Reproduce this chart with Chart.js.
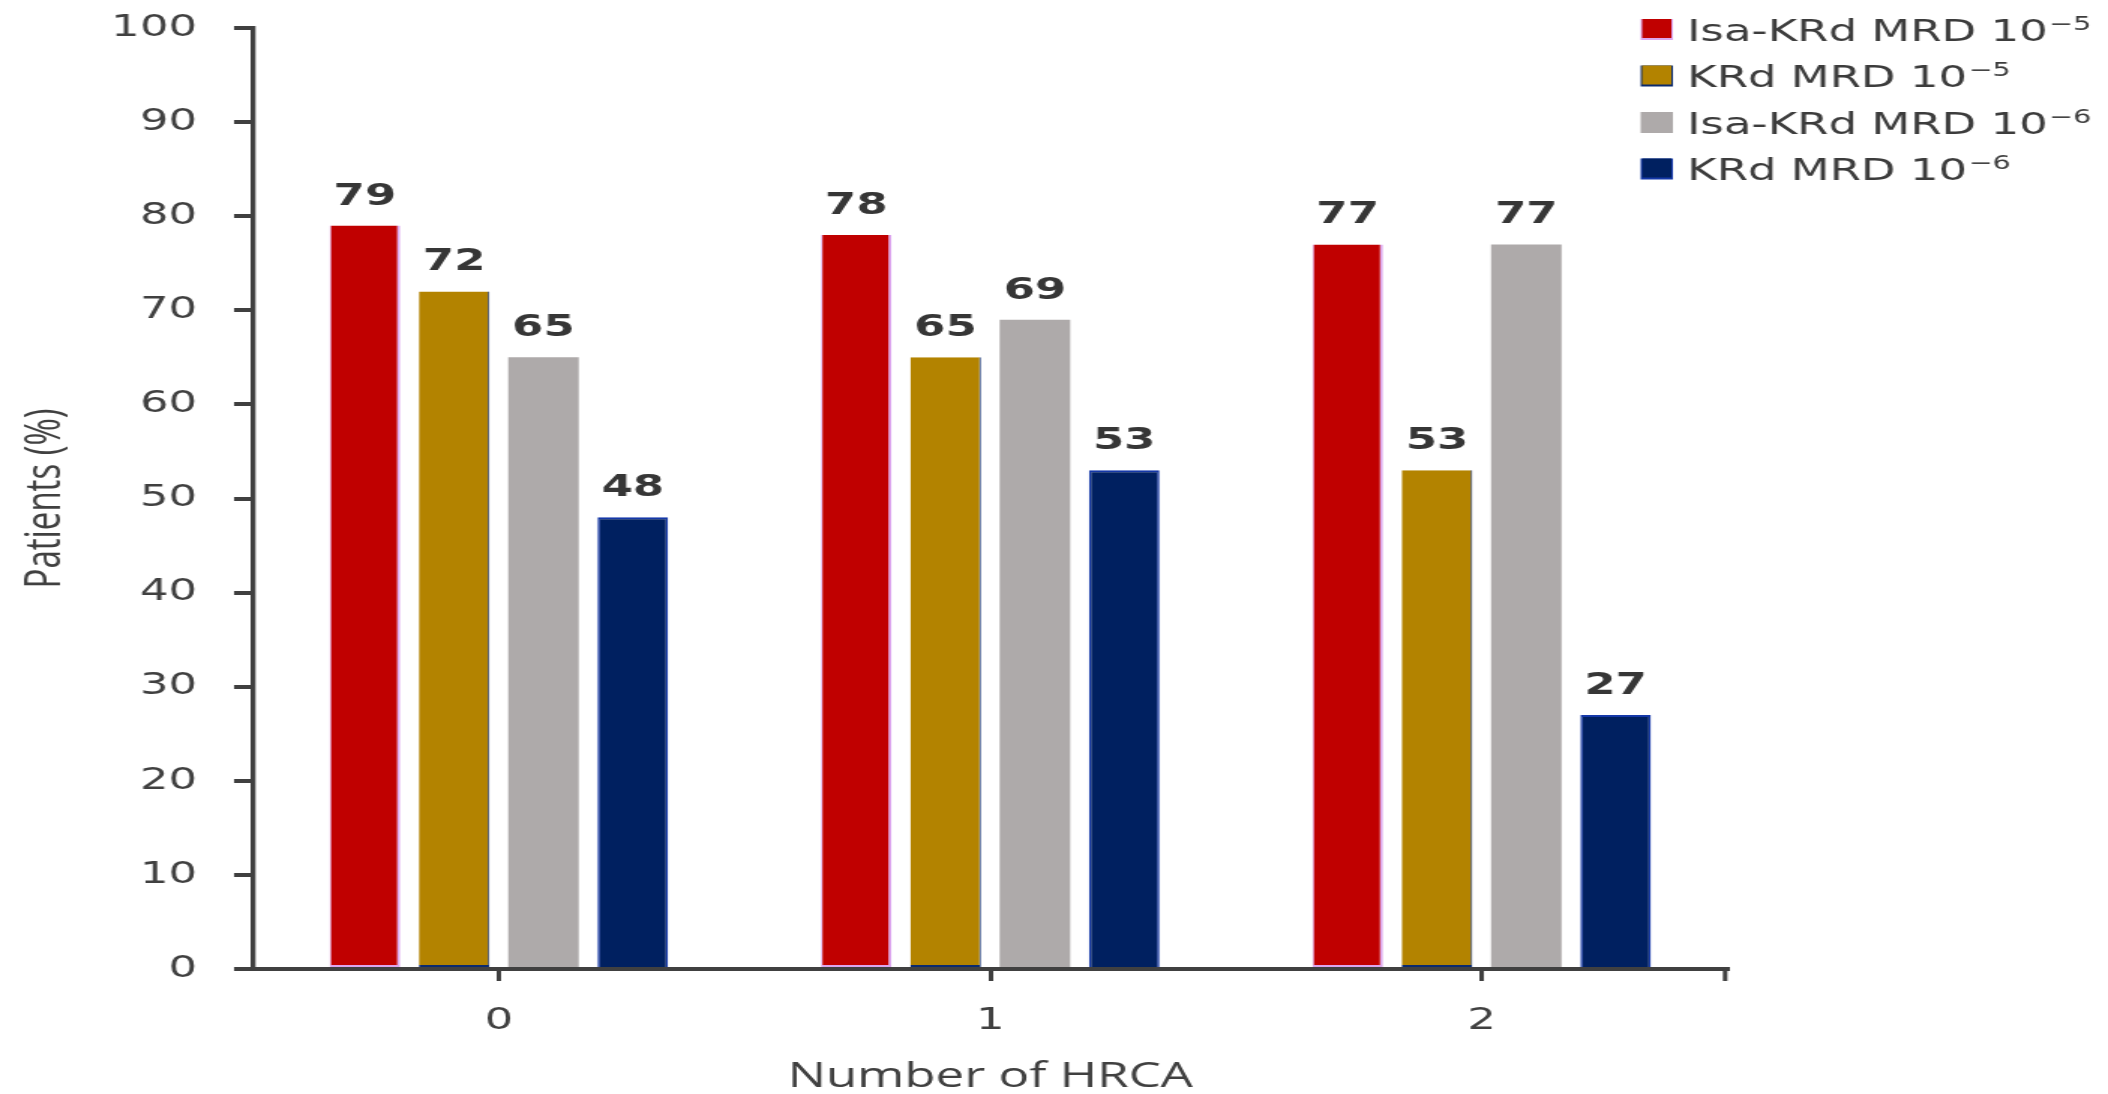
<!DOCTYPE html>
<html><head><meta charset="utf-8">
<script src="https://cdn.jsdelivr.net/npm/chart.js@4.4.1/dist/chart.umd.min.js"></script>
<style>
html,body{margin:0;padding:0;background:#fff;overflow:hidden;}
#wrap{width:1405px;height:1094px;transform:scaleX(1.50036);transform-origin:0 0;}
canvas{display:block;}
</style></head><body>
<div id="wrap"><canvas id="c" width="1405" height="1094"></canvas></div>
<script>
// ---- data ----
const categories = ['0', '1', '2'];
const seriesNames = ['Isa-KRd MRD 10\u207B\u2075', 'KRd MRD 10\u207B\u2075', 'Isa-KRd MRD 10\u207B\u2076', 'KRd MRD 10\u207B\u2076'];
const isaKRdMRD5 = [79, 78, 77];
const kRdMRD5 = [72, 65, 53];
const isaKRdMRD6 = [65, 69, 77];
const kRdMRD6 = [48, 53, 27];
const yTickValues = [0, 10, 20, 30, 40, 50, 60, 70, 80, 90, 100];
const xTitle = 'Number of HRCA';
const yTitle = 'Patients (%)';

// ---- styles ----
const fills = ['#C00000', '#B38300', '#AEAAAA', '#002060'];
const edges = ['#DCA6EE', '#0B2A6E', '#AEAAAA', '#1538A8'];
const edgeW = [{left:1,right:2,top:0,bottom:2},{left:0,right:1,top:0,bottom:2},0,{left:1.5,right:1.5,top:2,bottom:0}];
const AXIS = '#404040';
const SUP = {'\u207B': '\u2212', '\u2075': '5', '\u2076': '6'};

const valueLabels = {
  id: 'valueLabels',
  afterDatasetsDraw(chart) {
    const ctx = chart.ctx;
    ctx.save();
    ctx.font = 'bold 30px "DejaVu Sans"';
    ctx.fillStyle = '#363636';
    ctx.textAlign = 'center';
    ctx.textBaseline = 'alphabetic';
    chart.data.datasets.forEach((ds, i) => {
      chart.getDatasetMeta(i).data.forEach((bar, j) => {
        ctx.fillText(String(ds.data[j]), bar.x, bar.y - 21);
      });
    });
    ctx.restore();
  }
};

const customLegend = {
  id: 'customLegend',
  afterDraw(chart) {
    const ctx = chart.ctx;
    ctx.save();
    const ca = chart.chartArea;
    // right-end tick of x axis
    ctx.strokeStyle = AXIS; ctx.lineWidth = 3;
    ctx.beginPath(); ctx.moveTo(ca.right - 1.5, ca.bottom); ctx.lineTo(ca.right - 1.5, ca.bottom + 12); ctx.stroke();
    ctx.textAlign = 'left';
    ctx.textBaseline = 'alphabetic';
    chart.data.datasets.forEach((ds, i) => {
      const yc = 29.5 + i * 46.5;
      ctx.fillStyle = edges[i];
      ctx.fillRect(1093.5, yc - 10.5, 21.5, 21);
      ctx.fillStyle = fills[i];
      ctx.fillRect(1094.5, yc - 10.5, 19.5, 19);
      ctx.fillStyle = '#3c3c3c';
      const label = ds.label;
      let k = 0;
      while (k < label.length && !SUP[label[k]]) k++;
      const main = label.slice(0, k);
      const sup = label.slice(k).split('').map(c => SUP[c] || c).join('');
      const base = yc + 11;
      ctx.font = '30px "DejaVu Sans"';
      ctx.fillText(main, 1124.5, base);
      const w = ctx.measureText(main).width;
      ctx.font = '19px "DejaVu Sans"';
      ctx.fillText(sup, 1124.5 + w + 1, base - 11);
    });
    ctx.restore();
  }
};

const datasets = [isaKRdMRD5, kRdMRD5, isaKRdMRD6, kRdMRD6].map((arr, i) => ({
  label: seriesNames[i],
  data: arr,
  backgroundColor: fills[i],
  borderColor: edges[i],
  borderWidth: edgeW[i],
  borderSkipped: false,
  barPercentage: 0.79,
  categoryPercentage: 0.727
}));

new Chart(document.getElementById('c'), {
  type: 'bar',
  data: { labels: categories, datasets },
  options: {
    responsive: false,
    devicePixelRatio: 1,
    animation: false,
    layout: { padding: { left: 0, top: 28, right: 253.7, bottom: 0 } },
    plugins: { legend: { display: false }, tooltip: { enabled: false } },
    scales: {
      x: {
        offset: true,
        grid: { display: true, drawOnChartArea: false, drawTicks: true, tickLength: 12, offset: false, color: AXIS, lineWidth: 3 },
        border: { display: true, color: AXIS, width: 4 },
        ticks: { color: AXIS, font: { family: 'DejaVu Sans', size: 30 }, padding: 22 },
        title: { display: true, text: xTitle, color: AXIS, font: { family: 'Open Sans', size: 34, lineHeight: 1.0 }, padding: { top: 0, bottom: 0 } },
        afterFit(scale) { scale.height = 125; scale.paddingLeft = 0; scale.paddingRight = 0; }
      },
      y: {
        min: 0, max: 100,
        afterBuildTicks(scale) { scale.ticks = yTickValues.map(v => ({ value: v })); },
        grid: { display: true, drawOnChartArea: false, drawTicks: true, tickLength: 12.7, color: AXIS, lineWidth: 4 },
        border: { display: true, color: AXIS, width: 3.3 },
        ticks: { color: AXIS, font: { family: 'DejaVu Sans', size: 30 }, padding: 24.7 },
        title: { display: true, text: yTitle, color: AXIS, font: { family: 'Open Sans', size: 33 }, padding: { top: 11, bottom: 0 } },
        afterFit(scale) { scale.width = 168.7; scale.paddingTop = 0; scale.paddingBottom = 0; }
      }
    }
  },
  plugins: [valueLabels, customLegend]
});
</script>
</body></html>
